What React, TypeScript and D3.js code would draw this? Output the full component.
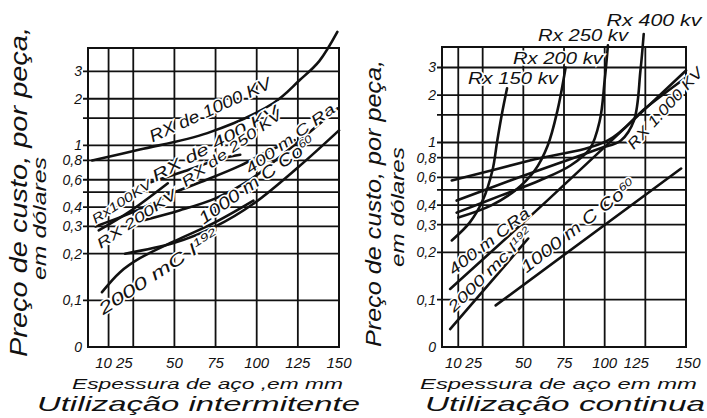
import * as d3 from 'd3';

type Pt = [number, number];

// eixos
const xTicks = [10, 25, 50, 75, 100, 125, 150];
const xGrid = [10, 25, 50, 75, 100, 125];
const yTicks = [3, 2, 1, 0.8, 0.6, 0.4, 0.3, 0.2, 0.1, 0.05];
const yTickLabels = ['3', '2', '1', '0,8', '0,6', '0,4', '0,3', '0,2', '0,1', '0'];
const yGrid = [3, 2, 1.5, 1, 0.8, 0.6, 0.5, 0.4, 0.3, 0.2, 0.1];

// utilização intermitente: [espessura mm, preço US$]
const intRx1000: Pt[] = [[0, 0.8], [29, 0.94], [70, 1.2], [110, 1.87], [126, 2.63], [138, 3.5], [149, 5.4]];
const intRx400: Pt[] = [[36, 0.58], [56, 0.68], [78, 0.82], [90, 0.87]];
const intRx250: Pt[] = [[46, 0.48], [66, 0.58], [90, 0.74], [108, 0.93], [123, 1.08]];
const intRa400: Pt[] = [[32, 0.33], [53, 0.38], [75, 0.455], [96, 0.6], [120, 0.95], [149, 1.73]];
const intCo1000: Pt[] = [[20, 0.2], [50, 0.235], [75, 0.3], [98, 0.42], [125, 0.72], [150, 1.25]];
const intIr2000: Pt[] = [[6, 0.113], [17, 0.152], [29, 0.187], [50, 0.241], [75, 0.32], [98, 0.44]];
const intRx100: Pt[] = [[4, 0.283], [23, 0.375], [46, 0.569]];
const intRx200: Pt[] = [[2, 0.3], [23, 0.364], [44, 0.462]];

// utilização contínua
const contRx150: Pt[] = [[6, 0.238], [17, 0.309], [25, 0.427], [31, 0.663], [34, 1.03], [37, 1.55], [40, 2.21]];
const contRx200: Pt[] = [[10, 0.333], [30, 0.397], [45, 0.495], [57, 0.663], [65, 0.957], [71, 1.6], [76, 3.0]];
const contRx250: Pt[] = [[9, 0.358], [36, 0.459], [60, 0.573], [79, 0.714], [91, 0.916], [97, 1.38], [100, 2.48], [102, 4.15]];
const contRx400: Pt[] = [[9, 0.427], [42, 0.573], [73, 0.746], [97, 0.916], [110, 1.03], [118, 1.38], [122, 2.87], [124, 4.9]];
const contRx1000: Pt[] = [[6, 0.573], [54, 0.768], [102, 1.03], [125, 1.65], [150, 2.59]];
const contRa400: Pt[] = [[5, 0.117], [65, 0.43], [150, 2.87]];
const contIr2000: Pt[] = [[5, 0.065], [53, 0.245]];
const contCo1000: Pt[] = [[33, 0.092], [147, 0.683]];

interface Label { text: string; sup?: string; at: Pt; angle: number; size: number; len: number }

const intLabels: Label[] = [
  { text: 'RX de 1000 KV', at: [71.6, 1.7], angle: -24.6, size: 17, len: 132 },
  { text: 'RX de  400 KV', at: [74.7, 1.03], angle: -28.4, size: 16, len: 141 },
  { text: 'RX de 250 KV', at: [84.7, 0.96], angle: -35.8, size: 14, len: 120 },
  { text: '400 m C Ra', at: [120.2, 1.106], angle: -36.2, size: 15, len: 107 },
  { text: '1000 m C Co', sup: '60', at: [99.9, 0.597], angle: -35.3, size: 17, len: 138 },
  { text: '2000 mC I', sup: '192', at: [40.3, 0.153], angle: -33.3, size: 17, len: 140 },
  { text: 'Rx100KV', at: [17.9, 0.434], angle: -33, size: 13, len: 68 },
  { text: 'RX 200KV', at: [27, 0.335], angle: -34, size: 14, len: 93 },
];

const contLabels: Label[] = [
  { text: 'Rx 400 kv', at: [130.3, 6.05], angle: 0, size: 17, len: 95 },
  { text: 'Rx 250 kv', at: [86.7, 4.85], angle: 0, size: 17, len: 90 },
  { text: 'Rx 200 kv', at: [71.3, 3.46], angle: 0, size: 17, len: 90 },
  { text: 'Rx 150 kv', at: [43.6, 2.58], angle: 0, size: 17, len: 90 },
  { text: 'RX 1.000 KV', at: [137, 1.65], angle: -47.7, size: 15, len: 104 },
  { text: '400 m CRa', at: [28.9, 0.236], angle: -38, size: 16, len: 98 },
  { text: '2000 mc I', sup: '192', at: [29.5, 0.155], angle: -45, size: 15, len: 112 },
  { text: '1000 m C Co', sup: '60', at: [83.6, 0.295], angle: -38, size: 17, len: 140 },
];

const FONT = '"Liberation Sans", "DejaVu Sans", sans-serif';
const INK = '#111';

interface PanelProps {
  x0: number; x1: number; y0: number; y1: number;
  xDomain: [number, number]; yMax: number;
  series: Pt[][]; labels: Label[];
  nudge: Record<number, number>;
  yTitle: { bx1: number; cy1: number; len1: number; size1: number; bx2: number; cy2: number; len2: number };
  xTitle: { text: string; x: number; len: number };
  title: { text: string; x: number; len: number };
}

function Panel(p: PanelProps) {
  const x = d3.scaleLinear().domain(p.xDomain).range([p.x0, p.x1]);
  const y = d3.scaleLog().domain([0.05, p.yMax]).range([p.y1, p.y0]);
  const line = d3.line<Pt>().x(d => x(d[0])).y(d => y(d[1])).curve(d3.curveCatmullRom.alpha(0.5));

  return (
    <g fontFamily={FONT} fontStyle="italic" fill={INK}>
      {/* grade */}
      {yGrid.map(v => (
        <line key={'h' + v} x1={p.x0 - 5} x2={p.x1} y1={y(v)} y2={y(v)} stroke={INK} strokeWidth={1.8} />
      ))}
      {xGrid.map(v => (
        <line key={'v' + v} x1={x(v)} x2={x(v)} y1={p.y0} y2={p.y1} stroke={INK} strokeWidth={1.8} />
      ))}
      <rect x={p.x0} y={p.y0} width={p.x1 - p.x0} height={p.y1 - p.y0} fill="none" stroke={INK} strokeWidth={2} />

      {/* curvas */}
      {p.series.map((s, i) => (
        <path key={i} d={line(s) || ''} fill="none" stroke={INK} strokeWidth={2.6} strokeLinecap="round" />
      ))}

      {/* rótulos das curvas */}
      {p.labels.map((l, i) => (
        <text key={i} transform={`translate(${x(l.at[0])},${y(l.at[1])}) rotate(${l.angle})`}
          textAnchor="middle" dy="0.35em" fontSize={l.size} textLength={l.len} lengthAdjust="spacingAndGlyphs"
          stroke="white" strokeWidth={3} paintOrder="stroke">
          {l.text}
          {l.sup && <tspan dy="-0.55em" fontSize="0.62em">{l.sup}</tspan>}
        </text>
      ))}

      {/* eixo y */}
      {yTicks.map((v, i) => (
        <text key={'yt' + v} x={p.x0 - 6} y={y(v)} dy="0.35em" textAnchor="end" fontSize={14}>{yTickLabels[i]}</text>
      ))}
      {/* eixo x */}
      {xTicks.map(v => (
        <text key={'xt' + v} x={x(v) + (p.nudge[v] || 0)} y={p.y1 + 21} textAnchor="middle" fontSize={15}>{v}</text>
      ))}

      <text transform={`translate(${p.yTitle.bx1},${p.yTitle.cy1}) rotate(-90)`} textAnchor="middle"
        fontSize={p.yTitle.size1} textLength={p.yTitle.len1} lengthAdjust="spacingAndGlyphs">Preço de custo, por peça,</text>
      <text transform={`translate(${p.yTitle.bx2},${p.yTitle.cy2}) rotate(-90)`} textAnchor="middle"
        fontSize={18} textLength={p.yTitle.len2} lengthAdjust="spacingAndGlyphs">em dólares</text>

      <text x={p.xTitle.x} y={389} fontSize={15} textLength={p.xTitle.len} lengthAdjust="spacingAndGlyphs">{p.xTitle.text}</text>
      <text x={p.title.x} y={411} fontSize={21} textLength={p.title.len} lengthAdjust="spacingAndGlyphs">{p.title.text}</text>
    </g>
  );
}

export default function App() {
  return (
    <svg width={707} height={418} style={{ position: 'absolute', left: 0, top: 0, background: 'white' }}>
      <rect width={707} height={418} fill="white" />
      <Panel
        x0={88} x1={339} y0={48} y1={347}
        xDomain={[-2.5, 150]} yMax={4.25}
        series={[intRx1000, intRx400, intRx250, intRa400, intCo1000, intIr2000, intRx100, intRx200]}
        labels={intLabels}
        nudge={{ 10: -5, 25: -9 }}
        yTitle={{ bx1: 27, cy1: 192, len1: 330, size1: 23, bx2: 46, cy2: 218.5, len2: 123 }}
        xTitle={{ text: 'Espessura de aço ,em  mm', x: 72, len: 271 }}
        title={{ text: 'Utilização  intermitente', x: 37, len: 323 }}
      />
      <Panel
        x0={442} x1={686} y0={47} y1={347}
        xDomain={[0, 150]} yMax={4.05}
        series={[contRx150, contRx200, contRx250, contRx400, contRx1000, contRa400, contIr2000, contCo1000]}
        labels={contLabels}
        nudge={{ 10: -5, 25: -9, 125: -9, 150: 2 }}
        yTitle={{ bx1: 381, cy1: 203.5, len1: 287, size1: 22, bx2: 404, cy2: 207, len2: 120 }}
        xTitle={{ text: 'Espessura de aço em  mm', x: 420, len: 277 }}
        title={{ text: 'Utilização  continua', x: 425, len: 280 }}
      />
    </svg>
  );
}
